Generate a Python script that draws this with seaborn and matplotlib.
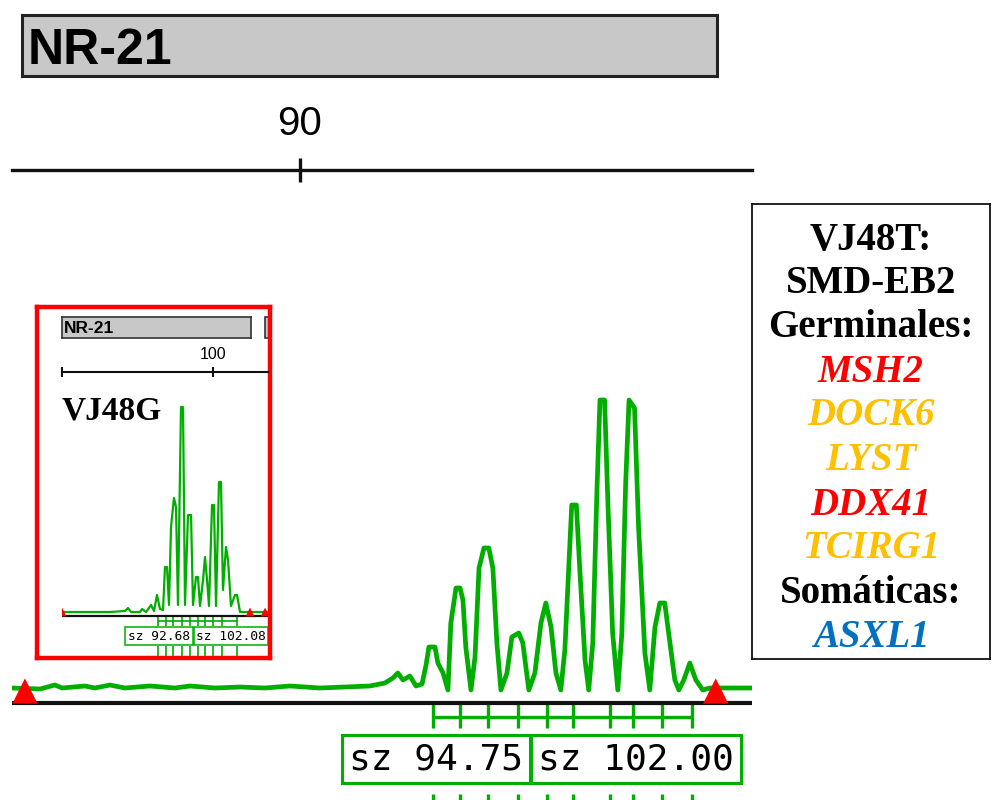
import matplotlib
matplotlib.use('Agg')
import numpy as np
import pandas as pd
import matplotlib.pyplot as plt
import seaborn as sns
from matplotlib import font_manager
from matplotlib.patches import Rectangle

sns.set_style('white')
plt.rcParams['text.color'] = 'black'
plt.rcParams['xtick.color'] = 'black'

# ---- main electropherogram (VJ48T), size in bp, height in RFU ----
main_size = [80.00, 80.97, 81.49, 81.74, 82.53, 82.88, 83.40, 83.92, 84.79, 85.66,
             86.18, 87.05, 87.92, 88.78, 89.65, 90.69, 91.56, 92.43, 92.95, 93.23,
             93.40, 93.58, 93.82, 94.03, 94.24,
             94.38, 94.48, 94.69, 94.79, 94.97, 95.14,
             95.24, 95.42, 95.56, 95.66, 95.76, 95.94,
             96.08, 96.22, 96.39, 96.56, 96.70, 96.84, 96.98,
             97.19, 97.36, 97.60, 97.74, 97.95,
             98.16, 98.37, 98.54, 98.72, 98.89, 99.06,
             99.20, 99.31, 99.44, 99.60, 99.72, 99.90, 100.03,
             100.17, 100.31, 100.42, 100.58, 100.70, 100.86, 101.04,
             101.18, 101.31, 101.43, 101.62, 101.76, 101.98, 102.15,
             102.33, 102.50, 102.67, 102.85, 103.02, 103.16,
             103.33, 103.54, 103.75, 103.99, 104.24, 105.70]
main_rfu = [150, 140, 180, 150, 170, 150, 180, 150, 170, 150,
            170, 150, 160, 150, 170, 150, 160, 170, 200, 250,
            300, 230, 270, 170, 190,
            380, 560, 560, 400, 300, 130,
            800, 1150, 1150, 1030, 560, 130,
            460, 1350, 1550, 1550, 1350, 600, 130,
            300, 660, 700, 600, 130,
            300, 800, 1000, 760, 300, 130,
            530, 1200, 1980, 1980, 1330, 430, 130,
            600, 2080, 3030, 3030, 1960, 700, 130,
            700, 2180, 3030, 2950, 1760, 500, 130,
            760, 1000, 1000, 600, 230, 130,
            230, 400, 230, 130, 150, 150]
main_peaks = [94.62, 95.56, 96.53, 97.57, 98.58, 99.48, 100.76, 101.56, 102.57, 103.61]
main_labels = ['sz 94.75', 'sz 102.00']
main_markers = [80.45, 104.44]

# ---- inset electropherogram (VJ48G) ----
inset_size = [80.00, 86.36, 88.34, 88.74, 89.14, 90.33, 90.60, 91.13, 91.79, 92.19,
              92.58, 92.98, 93.38, 93.64, 93.91, 94.17, 94.44, 94.83, 95.10, 95.36,
              95.76, 96.03, 96.29, 96.69, 97.09, 97.35, 97.75, 98.01, 98.28, 98.68,
              98.94, 99.21, 99.47, 99.87, 100.13, 100.40, 100.79, 101.06, 101.32, 101.72,
              101.99, 102.38, 102.91, 103.18, 103.58, 107.28]
inset_rfu = [40, 40, 50, 80, 40, 40, 70, 40, 110, 50,
             210, 70, 60, 490, 490, 110, 890, 1180, 1090, 110,
             2090, 2090, 110, 1010, 1010, 110, 390, 390, 100, 360,
             590, 360, 100, 1110, 1110, 100, 1340, 1340, 260, 690,
             560, 100, 210, 210, 40, 40]
inset_peaks = [92.72, 93.77, 94.70, 95.89, 96.95, 98.01, 98.94, 100.00, 101.19, 103.18]
inset_labels = ['sz 92.68', 'sz 102.08']
inset_markers = [80.0, 104.9, 106.9]

# ---- sample info box ----
info_lines = ['VJ48T:', 'SMD-EB2', 'Germinales:', 'MSH2', 'DOCK6', 'LYST',
              'DDX41', 'TCIRG1', 'Somáticas:', 'ASXL1']
info_colors = ['black', 'black', 'black', '#FF0000', '#FFC000', '#FFC000',
               '#FF0000', '#FFC000', 'black', '#0070C0']
info_italic = [False, False, False, True, True, True, True, True, False, True]

GREEN = '#00AE00'
W, H = 992, 800

names = {f.name for f in font_manager.fontManager.ttflist}
narrow = 'Liberation Sans Narrow' if 'Liberation Sans Narrow' in names else 'Liberation Sans'


def pbox(x0, y0, x1, y1):
    # pixel box -> figure fraction
    return [x0 / W, 1 - y1 / H, (x1 - x0) / W, (y1 - y0) / H]


def bare(ax):
    ax.set_xticks([])
    ax.set_yticks([])
    ax.set_xlabel('')
    ax.set_ylabel('')


fig = plt.figure(figsize=(9.92, 8), dpi=100)

# header bar
hb = fig.add_axes(pbox(22, 15, 717, 76))
hb.set_facecolor('#C8C8C8')
bare(hb)
for s in hb.spines.values():
    s.set_color('#222222')
    s.set_linewidth(2.2)
hb.text(0.008, 0.2, 'NR-21', transform=hb.transAxes, ha='left', va='baseline',
        fontsize=36, fontweight='bold', family=narrow, color='black')

# ruler
ru = fig.add_axes(pbox(12, 169, 752, 170))
ru.set_xlim(80, 105.7)
ru.set_yticks([])
ru.set_xticks([90])
ru.set_xticklabels(['90'], fontsize=29, family='Liberation Sans')
for k in ['top', 'left', 'right']:
    ru.spines[k].set_visible(False)
ru.spines['bottom'].set_linewidth(2.4)
ru.spines['bottom'].set_color('#111111')
ru.tick_params(axis='x', bottom=True, top=False, labelbottom=False, labeltop=True,
               direction='inout', length=17, width=2.4, color='#111111', pad=10)
ru.patch.set_alpha(0)

# main trace
ax = fig.add_axes(pbox(12, 380, 752, 800))
ax.patch.set_alpha(0)
main_df = pd.DataFrame({'size': main_size, 'rfu': main_rfu})
sns.lineplot(data=main_df, x='size', y='rfu', ax=ax, color=GREEN, lw=3.4,
             estimator=None, sort=False, zorder=3)
ax.axhline(0, color='#111111', lw=3, zorder=2)
ax.vlines(main_peaks, -250, 0, color=GREEN, lw=2.4, zorder=1)
ax.hlines(-140, main_peaks[0], main_peaks[-1], color=GREEN, lw=2.4, zorder=1)
ax.vlines(main_peaks, -1000, -905, color=GREEN, lw=2.4, zorder=1)
sns.scatterplot(x=main_markers, y=[120, 120], ax=ax, marker='^', s=330,
                color='#FF0000', edgecolor='none', zorder=4)
for xpos, lab in zip([94.72, 101.66], main_labels):
    ax.text(xpos, -560, lab, ha='center', va='center', fontsize=26,
            family='DejaVu Sans Mono', zorder=5,
            bbox=dict(boxstyle='square,pad=0.2', fc='white', ec=GREEN, lw=2.2))
ax.set_xlim(80, 105.7)
ax.set_ylim(-970, 3230)
bare(ax)
sns.despine(ax=ax, left=True, bottom=True)

# inset frame
fr = fig.add_axes(pbox(37, 307, 270, 658))
fr.set_facecolor('white')
bare(fr)
for s in fr.spines.values():
    s.set_color('#FF0000')
    s.set_linewidth(3.2)
    s.set_zorder(10)
fr.add_patch(Rectangle(((265 - 37) / 233, (658 - 338) / 351), 0.2, 21 / 351,
                       transform=fr.transAxes, fc='#C8C8C8', ec='#333333', lw=1.2))
fr.text((62 - 37) / 233, (658 - 420) / 351, 'VJ48G', transform=fr.transAxes,
        ha='left', va='baseline', fontsize=24, fontweight='bold',
        family='Liberation Serif', color='black')

ib = fig.add_axes(pbox(62, 317, 251, 338))
ib.set_facecolor('#C8C8C8')
bare(ib)
for s in ib.spines.values():
    s.set_color('#333333')
    s.set_linewidth(1.2)
ib.text(0.012, 0.22, 'NR-21', transform=ib.transAxes, ha='left', va='baseline',
        fontsize=12.5, fontweight='bold', family=narrow, color='black')

ir = fig.add_axes(pbox(62, 371, 268, 372))
ir.set_xlim(80, 80 + 206 / 7.55)
ir.set_yticks([])
ir.set_xticks([80, 100])
ir.set_xticklabels(['', '100'], fontsize=11.5, family='Liberation Sans')
for k in ['top', 'left', 'right']:
    ir.spines[k].set_visible(False)
ir.spines['bottom'].set_linewidth(1.5)
ir.spines['bottom'].set_color('#111111')
ir.tick_params(axis='x', bottom=True, top=False, labelbottom=False, labeltop=True,
               direction='inout', length=7, width=1.5, color='#111111', pad=3)
ir.patch.set_alpha(0)

ia = fig.add_axes(pbox(62, 390, 268, 656))
ia.patch.set_alpha(0)
inset_df = pd.DataFrame({'size': inset_size, 'rfu': inset_rfu})
sns.lineplot(data=inset_df, x='size', y='rfu', ax=ia, color=GREEN, lw=1.6,
             estimator=None, sort=False, zorder=3)
ia.axhline(0, color='#111111', lw=1.6, zorder=2)
ia.vlines(inset_peaks, -100, 0, color=GREEN, lw=1.2, zorder=1)
ia.hlines(-50, inset_peaks[0], inset_peaks[-1], color=GREEN, lw=1.2, zorder=1)
ia.vlines(inset_peaks, -420, -300, color=GREEN, lw=1.2, zorder=1)
sns.scatterplot(x=inset_markers, y=[40, 40, 40], ax=ia, marker='^', s=40,
                color='#FF0000', edgecolor='none', zorder=4)
for xpos, lab in zip([92.85, 102.38], inset_labels):
    ia.text(xpos, -200, lab, ha='center', va='center', fontsize=9.3,
            family='DejaVu Sans Mono', zorder=5, clip_on=True, color='black',
            bbox=dict(boxstyle='square,pad=0.2', fc='white', ec=GREEN, lw=1.1))
ia.set_xlim(80, 80 + 206 / 7.55)
ia.set_ylim(-400, 2260)
bare(ia)
sns.despine(ax=ia, left=True, bottom=True)

# info box
ib2 = fig.add_axes(pbox(752, 204, 990, 659))
ib2.set_facecolor('white')
bare(ib2)
for s in ib2.spines.values():
    s.set_color('#111111')
    s.set_linewidth(1.3)
baselines = [250, 293, 337, 382, 425, 470, 515, 558, 603, 647]
for txt, col, it, b in zip(info_lines, info_colors, info_italic, baselines):
    ib2.text(0.5, (659 - b) / 455, txt, transform=ib2.transAxes, ha='center',
             va='baseline', fontsize=28, fontweight='bold',
             style='italic' if it else 'normal', color=col, family='Liberation Serif')

fig.savefig('out.png', dpi=100)
